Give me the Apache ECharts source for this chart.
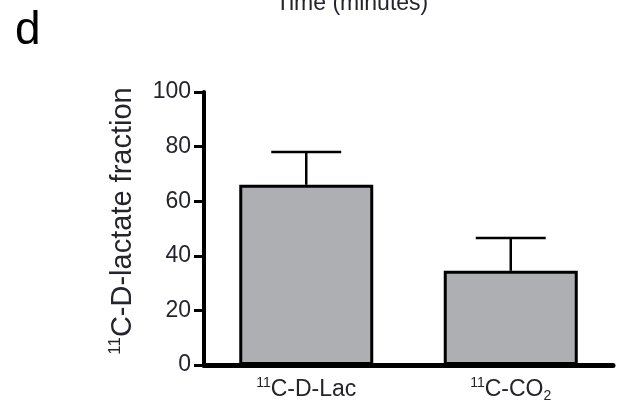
<!DOCTYPE html>
<html lang="en">
<head>
<meta charset="UTF-8">
<title>d: 11C-D-lactate fraction</title>
<style>
    html, body { margin: 0; padding: 0; background: #fff; }
    #main { width: 618px; height: 413px; }
</style>
</head>
<body>
<div id="main"></div>
<script src="https://cdn.jsdelivr.net/npm/echarts@6/dist/echarts.min.js"></script>
<script>
    // data
    const categories = ['11C-D-Lac', '11C-CO2']
    const categoryLabels = ['{sup|11}{main|C-D-Lac}', '{sup|11}{main|C-CO}{sub|2}']
    const means = [66, 34.5]
    const errors = [12, 12]   // upper error bar only
    const yMin = 0
    const yMax = 100
    const yStep = 20

    const font = 'Liberation Sans, Arial, sans-serif'
    const textColor = '#24242c'

    const chart = echarts.init(document.getElementById('main'))

    const option = {
        animation: false,
        grid: { left: 204, right: 5, top: 92, bottom: 48 },
        graphic: [
            {
                // tail of the panel above, cut off at the top edge
                type: 'text', x: 352, y: 4,
                style: { text: 'Time (minutes)', font: '23px ' + font, fill: textColor, align: 'center', verticalAlign: 'middle' }
            },
            {
                type: 'text', x: 15, y: 31,
                style: { text: 'd', font: '46px ' + font, fill: '#000', align: 'left', verticalAlign: 'middle' }
            },
            {
                type: 'text', x: 123, y: 221, rotation: Math.PI / 2,
                style: {
                    text: '{sup|11}{main|C-D-lactate fraction}',
                    align: 'center', verticalAlign: 'middle',
                    rich: {
                        sup: { fontSize: 17, fontFamily: font, fill: textColor, lineHeight: 32, verticalAlign: 'top' },
                        main: { fontSize: 29, fontFamily: font, fill: textColor, lineHeight: 32 }
                    }
                }
            }
        ],
        xAxis: {
            type: 'category',
            data: categories,
            axisLine: { lineStyle: { color: '#000', width: 5 } },
            axisTick: { show: false },
            axisLabel: {
                margin: 11,
                formatter: (v, i) => categoryLabels[i],
                rich: {
                    sup: { fontSize: 14, fontFamily: font, color: textColor, lineHeight: 27, verticalAlign: 'top' },
                    main: { fontSize: 23, fontFamily: font, color: textColor, lineHeight: 27 },
                    sub: { fontSize: 14, fontFamily: font, color: textColor, lineHeight: 27, verticalAlign: 'bottom' }
                }
            }
        },
        yAxis: {
            type: 'value',
            min: yMin,
            max: yMax,
            interval: yStep,
            axisLine: { show: true, lineStyle: { color: '#000', width: 4 } },
            axisTick: { show: true, length: 10, lineStyle: { color: '#000', width: 3 } },
            axisLabel: { margin: 13, fontSize: 23, fontFamily: font, color: textColor },
            splitLine: { show: false }
        },
        series: [
            {
                type: 'bar',
                data: means,
                barWidth: 134,
                itemStyle: { color: '#aeafb3', borderColor: '#000', borderWidth: 3 },
                z: 3
            },
            {
                type: 'custom',
                data: means.map((m, i) => [i, m, m + errors[i]]),
                renderItem(params, api) {
                    const base = api.coord([api.value(0), api.value(1)])
                    const top = api.coord([api.value(0), api.value(2)])
                    const half = api.size([1, 0])[0] * 0.171
                    const style = { stroke: '#000', lineWidth: 2.5 }
                    return {
                        type: 'group',
                        children: [
                            { type: 'line', shape: { x1: base[0], y1: base[1], x2: top[0], y2: top[1] }, style },
                            { type: 'line', shape: { x1: top[0] - half, y1: top[1], x2: top[0] + half, y2: top[1] }, style }
                        ]
                    }
                },
                z: 2
            }
        ]
    }

    chart.setOption(option)
</script>
</body>
</html>
